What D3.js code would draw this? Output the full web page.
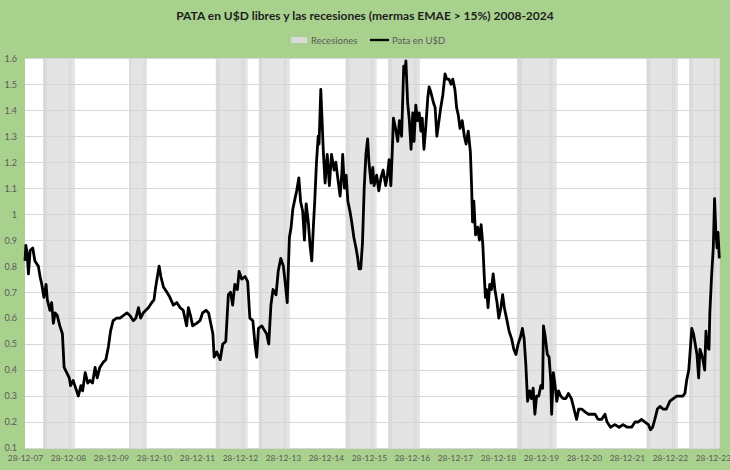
<!DOCTYPE html>
<html><head><meta charset="utf-8">
<script src="https://cdn.jsdelivr.net/npm/d3@7"></script>
<style>body{margin:0;background:#a9d18e} svg{display:block}</style>
</head><body><svg id="c" width="730" height="470"></svg>
<script>
const chartTitle = "PATA en U$D libres y las recesiones (mermas EMAE > 15%) 2008-2024";
const legendLabels = ["Recesiones", "Pata en U$D"];
const xTickYears = [2007.99,2008.99,2009.99,2010.99,2011.99,2012.99,2013.99,2014.99,2015.99,2016.99,2017.99,2018.99,2019.99,2020.99,2021.99,2022.99,2023.99];
const xTickLabels = ["28-12-07","28-12-08","28-12-09","28-12-10","28-12-11","28-12-12","28-12-13","28-12-14","28-12-15","28-12-16","28-12-17","28-12-18","28-12-19","28-12-20","28-12-21","28-12-22","28-12-23"];
const yTicks = [0.1,0.2,0.3,0.4,0.5,0.6,0.7,0.8,0.9,1.0,1.1,1.2,1.3,1.4,1.5,1.6];
const recessionStart = [2008.41, 2010.41, 2012.43, 2013.43, 2015.45, 2016.44, 2019.44, 2022.45, 2023.44];
const recessionEnd   = [2009.15, 2010.83, 2013.17, 2014.15, 2016.17, 2017.18, 2020.36, 2023.18, 2024.14];

const pataDates = [
  2007.99,2008.01,2008.04,2008.07,2008.11,2008.17,2008.22,2008.30,2008.34,2008.38,2008.43,2008.48,2008.51,2008.57,2008.61,2008.65,2008.69,2008.74,2008.80,2008.86,2008.90,2008.96,
  2009.02,2009.05,2009.11,2009.15,2009.23,2009.29,2009.33,2009.39,2009.45,2009.50,2009.56,2009.62,2009.67,2009.73,2009.81,2009.87,2009.93,2009.98,
  2010.04,2010.12,2010.20,2010.28,2010.36,2010.43,2010.51,2010.57,2010.63,2010.68,2010.74,2010.80,2010.86,2010.94,2010.99,
  2011.03,2011.07,2011.11,2011.15,2011.21,2011.29,2011.36,2011.44,2011.52,2011.60,2011.67,2011.75,2011.79,2011.84,2011.89,2011.98,
  2012.06,2012.12,2012.20,2012.26,2012.31,2012.36,2012.39,2012.45,2012.53,2012.59,2012.66,2012.72,2012.77,2012.82,2012.87,2012.93,2012.97,
  2013.03,2013.11,2013.17,2013.22,2013.29,2013.34,2013.38,2013.42,2013.50,2013.57,2013.61,2013.66,2013.71,2013.76,2013.83,2013.88,2013.94,2014.00,
  2014.04,2014.09,2014.14,2014.18,2014.22,2014.27,2014.31,2014.36,2014.40,2014.45,2014.49,2014.53,2014.58,2014.62,2014.66,2014.70,2014.73,2014.77,2014.81,2014.83,2014.87,2014.90,2014.93,2014.97,
  2015.02,2015.07,2015.12,2015.18,2015.22,2015.28,2015.32,2015.36,2015.38,2015.42,2015.46,2015.50,2015.55,2015.59,2015.64,2015.69,2015.73,2015.76,2015.80,2015.84,2015.88,2015.92,2015.96,2015.99,
  2016.04,2016.08,2016.11,2016.17,2016.22,2016.27,2016.32,2016.38,2016.42,2016.46,2016.50,2016.53,2016.56,2016.61,2016.66,2016.70,2016.75,2016.80,2016.83,2016.85,2016.89,2016.93,2016.97,
  2017.01,2017.04,2017.08,2017.12,2017.16,2017.20,2017.23,2017.27,2017.31,2017.36,2017.39,2017.43,2017.49,2017.53,2017.57,2017.62,2017.66,2017.71,2017.76,2017.80,2017.85,2017.90,2017.94,2017.99,
  2018.03,2018.07,2018.11,2018.16,2018.21,2018.25,2018.30,2018.35,2018.38,2018.40,2018.43,2018.47,2018.52,2018.56,2018.60,2018.64,2018.67,2018.70,2018.73,2018.76,2018.80,2018.84,2018.88,2018.92,2018.97,
  2019.01,2019.06,2019.10,2019.14,2019.19,2019.25,2019.31,2019.36,2019.41,2019.46,2019.52,2019.56,2019.60,2019.64,2019.68,2019.73,2019.77,2019.81,2019.85,2019.89,2019.94,2019.99,
  2020.03,2020.05,2020.09,2020.14,2020.18,2020.22,2020.24,2020.28,2020.32,2020.36,2020.40,2020.45,2020.51,2020.57,2020.63,2020.70,2020.76,2020.82,2020.87,2020.94,
  2021.01,2021.09,2021.17,2021.25,2021.32,2021.40,2021.48,2021.53,2021.61,2021.71,2021.81,2021.90,
  2022.00,2022.10,2022.18,2022.25,2022.33,2022.41,2022.49,2022.54,2022.59,2022.64,2022.70,2022.76,2022.83,2022.91,2022.99,
  2023.07,2023.15,2023.22,2023.29,2023.34,2023.38,2023.43,2023.47,2023.50,2023.54,2023.58,2023.62,2023.66,2023.69,2023.73,2023.76,2023.80,2023.83,2023.86,2023.90,2023.92,2023.96,2024.00,2024.03,2024.06,2024.09,2024.11,2024.14
];
const pataValues = [
  0.82,0.88,0.85,0.77,0.86,0.87,0.82,0.80,0.76,0.73,0.68,0.73,0.67,0.63,0.66,0.58,0.62,0.61,0.57,0.54,0.41,0.39,
  0.37,0.34,0.36,0.34,0.30,0.34,0.32,0.39,0.35,0.36,0.35,0.41,0.37,0.41,0.43,0.44,0.49,0.55,
  0.59,0.60,0.60,0.61,0.62,0.61,0.59,0.60,0.64,0.60,0.62,0.63,0.64,0.66,0.67,
  0.72,0.76,0.80,0.76,0.72,0.70,0.68,0.65,0.66,0.64,0.63,0.57,0.64,0.61,0.57,0.58,
  0.59,0.62,0.63,0.62,0.58,0.54,0.45,0.47,0.44,0.50,0.51,0.69,0.70,0.65,0.73,0.71,0.78,
  0.75,0.76,0.74,0.60,0.59,0.50,0.45,0.56,0.57,0.55,0.54,0.50,0.65,0.71,0.69,0.78,0.83,0.80,
  0.74,0.66,0.91,0.95,1.02,1.06,1.09,1.14,1.05,1.01,0.90,1.04,0.97,0.88,0.82,0.96,1.05,1.20,1.30,1.27,1.48,1.36,1.24,1.12,
  1.23,1.11,1.23,1.17,1.20,1.12,1.07,1.16,1.23,1.10,1.15,1.05,1.01,0.97,0.91,0.87,0.83,0.79,0.79,0.89,1.10,1.23,1.29,1.20,
  1.12,1.18,1.11,1.15,1.09,1.14,1.17,1.11,1.15,1.21,1.11,1.23,1.37,1.33,1.28,1.36,1.30,1.57,1.54,1.59,1.43,1.36,1.25,
  1.39,1.28,1.42,1.36,1.39,1.32,1.37,1.25,1.33,1.45,1.49,1.47,1.43,1.41,1.30,1.36,1.41,1.46,1.54,1.52,1.52,1.50,1.52,1.48,
  1.41,1.38,1.33,1.36,1.30,1.27,1.32,1.24,1.10,0.97,1.05,0.92,0.95,0.90,0.96,0.88,0.77,0.68,0.71,0.64,0.73,0.71,0.77,0.71,0.66,
  0.60,0.64,0.69,0.64,0.60,0.55,0.52,0.48,0.46,0.50,0.53,0.56,0.52,0.42,0.28,0.32,0.29,0.33,0.23,0.30,0.30,0.34,
  0.33,0.57,0.53,0.46,0.45,0.36,0.23,0.39,0.34,0.28,0.32,0.30,0.29,0.29,0.31,0.29,0.25,0.21,0.25,0.25,
  0.24,0.23,0.23,0.23,0.21,0.21,0.23,0.20,0.18,0.19,0.18,0.19,
  0.18,0.18,0.20,0.20,0.21,0.20,0.19,0.17,0.18,0.21,0.25,0.26,0.25,0.25,0.28,
  0.29,0.30,0.30,0.30,0.31,0.36,0.40,0.49,0.56,0.54,0.50,0.46,0.37,0.48,0.46,0.44,0.40,0.55,0.49,0.48,0.62,0.76,0.87,1.06,0.93,0.87,0.93,0.83
];

const W = 730, H = 470;
const plot = {left: 25, right: 719.3, top: 58.3, bottom: 448};
const FONT = "Lato, 'Open Sans', sans-serif";
const svg = d3.select("#c");

svg.append("rect").attr("width", W).attr("height", H).attr("fill", "#a9d18e");

const x = d3.scaleLinear().domain([xTickYears[0], d3.max(recessionEnd)]).range([plot.left, plot.right]);
const y = d3.scaleLinear().domain([yTicks[0], yTicks[yTicks.length - 1]]).range([plot.bottom, plot.top]);

svg.append("rect").attr("x", plot.left).attr("y", plot.top)
  .attr("width", plot.right - plot.left).attr("height", plot.bottom - plot.top).attr("fill", "#ffffff");

// recession bands
const bands = recessionStart.map((s, i) => ({s, e: recessionEnd[i]}));
svg.append("g").selectAll("rect").data(bands).join("rect")
  .attr("x", d => x(d.s)).attr("y", plot.top)
  .attr("width", d => x(d.e) - x(d.s)).attr("height", plot.bottom - plot.top)
  .attr("fill", "#e4e4e4");
svg.append("g").selectAll("rect").data(bands).join("rect")
  .attr("x", d => x(d.s)).attr("y", plot.top)
  .attr("width", d => (x(d.e) - x(d.s)) * 0.12).attr("height", plot.bottom - plot.top)
  .attr("fill", "#dadada");
svg.append("g").selectAll("rect").data(bands).join("rect")
  .attr("x", d => x(d.s) + (x(d.e) - x(d.s)) * 0.8).attr("y", plot.top)
  .attr("width", d => (x(d.e) - x(d.s)) * 0.1).attr("height", plot.bottom - plot.top)
  .attr("fill", "#dcdcdc");

// gridlines
svg.append("g").selectAll("line").data(yTicks).join("line")
  .attr("x1", plot.left).attr("x2", plot.right)
  .attr("y1", d => Math.round(y(d)) + 0.5).attr("y2", d => Math.round(y(d)) + 0.5)
  .attr("stroke", "#d6d6d6").attr("stroke-width", 1);

// axes
const yAxis = svg.append("g").attr("transform", `translate(${plot.left},0)`)
  .call(d3.axisLeft(y).tickValues(yTicks).tickSize(0).tickPadding(8).tickFormat(d => d3.format(".1~f")(d)));
yAxis.select(".domain").remove();
yAxis.selectAll("text").attr("fill", "#595959").style("font-family", FONT).style("font-size", "9px");

const xAxis = svg.append("g").attr("transform", `translate(0,${plot.bottom})`)
  .call(d3.axisBottom(x).tickValues(xTickYears).tickSize(0).tickPadding(7).tickFormat((d, i) => xTickLabels[i]));
xAxis.select(".domain").remove();
xAxis.selectAll("text").attr("fill", "#595959").style("font-family", FONT).style("font-size", "8.4px");

// line
const pts = pataDates.map((d, i) => [d, pataValues[i]]);
svg.append("path").datum(pts)
  .attr("d", d3.line().x(d => x(d[0])).y(d => y(d[1])))
  .attr("fill", "none").attr("stroke", "#000").attr("stroke-width", 2.8).attr("stroke-linejoin", "round");

// title
svg.append("text").attr("x", W / 2).attr("y", 20).attr("text-anchor", "middle")
  .style("font-family", FONT).style("font-weight", "bold").style("font-size", "12px").attr("fill", "#1e1e1e")
  .text(chartTitle);

// legend
const lg = svg.append("g").style("font-family", FONT).style("font-size", "9.5px");
lg.append("rect").attr("x", 291).attr("y", 37).attr("width", 16).attr("height", 6).attr("fill", "#d9d9d9");
lg.append("text").attr("x", 311).attr("y", 43.5).attr("fill", "#595959").text(legendLabels[0]);
lg.append("line").attr("x1", 370).attr("x2", 389).attr("y1", 40).attr("y2", 40).attr("stroke", "#000").attr("stroke-width", 2.3);
lg.append("text").attr("x", 392).attr("y", 43.5).attr("fill", "#595959").text(legendLabels[1]);
</script></body></html>
